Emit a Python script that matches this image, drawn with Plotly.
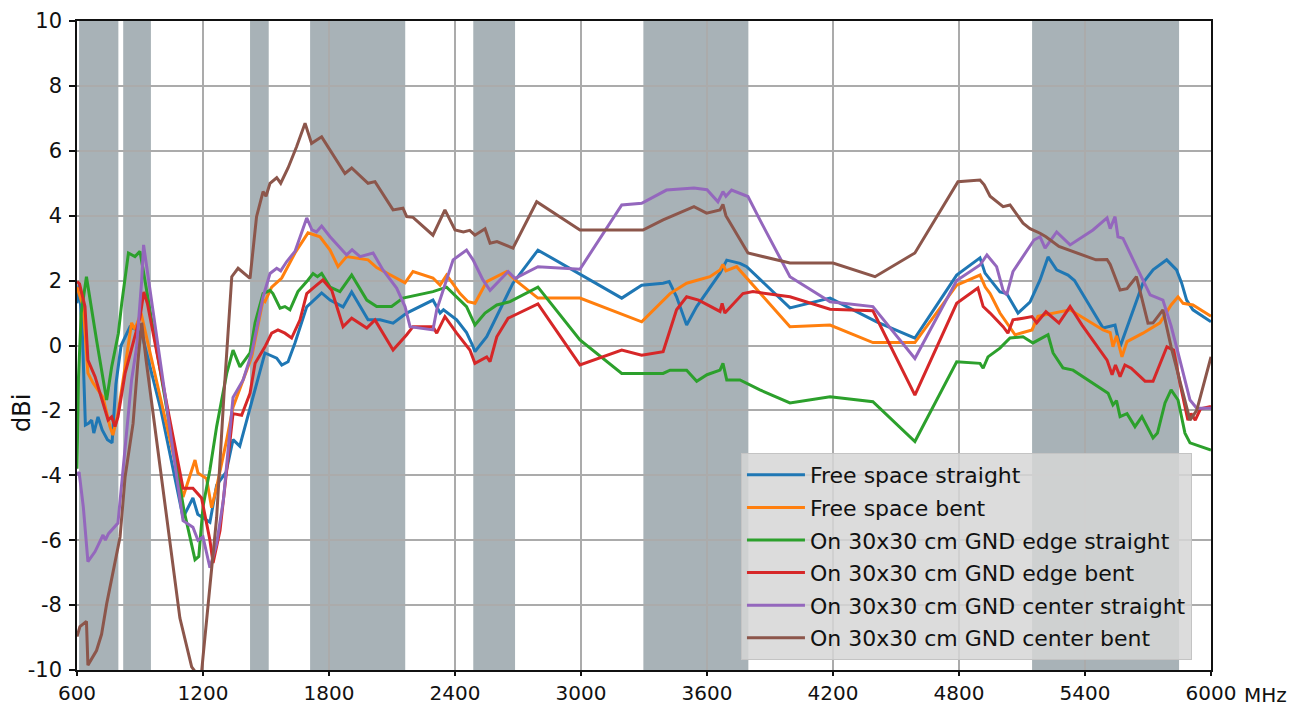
import plotly.graph_objects as go

# ---------------- data ----------------
fs_straight_x = [600, 610, 625, 640, 655, 670, 680, 700, 720, 745, 767, 785, 810, 852, 880, 910, 1000, 1105, 1152, 1175,
                 1233, 1265, 1310, 1343, 1375, 1424, 1495, 1551, 1575, 1605, 1638, 1694, 1765, 1805, 1867, 1908, 1986,
                 2043, 2105, 2170, 2295, 2329, 2345, 2408, 2455, 2486, 2495, 2551, 2599, 2676, 2795, 3194, 3289, 3391,
                 3420, 3455, 3503, 3551, 3662, 3694, 3757, 3789, 3995, 4186, 4408, 4590, 4789, 4900, 4924, 4962, 4995,
                 5027, 5081, 5138, 5186, 5224, 5265, 5319, 5350, 5486, 5543, 5567, 5676, 5724, 5789, 5836, 5860, 5884,
                 5914, 6000]
fs_straight_y = [1.3, 1.9, 0.5, -2.45, -2.4, -2.3, -2.7, -2.2, -2.6, -2.9, -3.0, -1.2, 0.0, 0.57, 0.5, 0.32, -2.0, -5.3,
                 -4.7, -5.2, -5.45, -4.3, -3.9, -2.9, -3.1, -1.95, -0.23, -0.39, -0.6, -0.5, 0.08, 1.19, 1.62, 1.4, 1.19,
                 1.65, 0.79, 0.79, 0.69, 1.0, 1.4, 1.0, 1.1, 0.79, 0.4, -0.03, -0.19, 0.27, 0.89, 1.92, 2.94, 1.46, 1.86,
                 1.92, 1.97, 1.5, 0.63, 1.2, 2.23, 2.63, 2.53, 2.43, 1.16, 1.46, 0.73, 0.23, 2.17, 2.7, 2.23, 1.9, 1.65,
                 1.6, 1.0, 1.34, 2.02, 2.73, 2.33, 2.17, 2.0, 0.54, 0.63, -0.04, 1.93, 2.33, 2.64, 2.33, 1.93, 1.4, 1.1,
                 0.73]

fs_bent_x = [600, 605, 630, 652, 676, 724, 757, 771, 795, 829, 860, 875, 905, 1105, 1162, 1176, 1217, 1241, 1265, 1313,
             1343, 1432, 1486, 1495, 1527, 1575, 1638, 1700, 1757, 1805, 1843, 1884, 1986, 2027, 2162, 2200, 2295, 2329,
             2360, 2424, 2462, 2495, 2551, 2646, 2686, 2795, 2995, 3289, 3424, 3503, 3614, 3662, 3676, 3690, 3741, 3995,
             4186, 4390, 4590, 4789, 4900, 4925, 4948, 4995, 5067, 5105, 5148, 5176, 5329, 5486, 5520, 5533, 5550, 5576,
             5600, 5676, 5757, 5810, 5843, 5867, 5914, 6000]
fs_bent_y = [1.8, 1.7, 1.2, -0.85, -1.15, -1.6, -2.5, -2.76, -2.1, -0.66, 0.7, 0.5, 1.0, -4.67, -3.53, -3.93, -4.1, -5.0,
             -4.36, -2.9, -1.9, -0.35, 1.4, 1.35, 1.8, 2.08, 2.85, 3.47, 3.35, 2.94, 2.43, 2.74, 2.64, 2.4, 1.93, 2.28,
             2.08, 1.86, 2.17, 1.6, 1.35, 1.3, 1.97, 2.28, 2.02, 1.46, 1.46, 0.73, 1.6, 1.92, 2.12, 2.33, 2.5, 2.3, 2.43,
             0.58, 0.63, 0.09, 0.09, 1.86, 2.17, 1.8, 1.6, 1.0, 0.33, 0.4, 0.48, 0.9, 1.1, 0.48, 0.4, -0.04, 0.3, -0.35,
             0.12, 0.38, 0.7, 1.25, 1.5, 1.3, 1.25, 0.9]

edge_straight_x = [600, 607, 620, 645, 693, 741, 765, 797, 813, 829, 845, 876, 900, 1110, 1162, 1180, 1200, 1233, 1265,
                   1313, 1343, 1376, 1424, 1448, 1486, 1519, 1533, 1567, 1590, 1614, 1652, 1694, 1724, 1745, 1765, 1805,
                   1852, 1908, 1980, 2027, 2098, 2152, 2295, 2360, 2408, 2455, 2495, 2543, 2599, 2662, 2795, 2995, 3194,
                   3391, 3424, 3503, 3551, 3600, 3662, 3676, 3694, 3757, 3852, 3995, 4186, 4390, 4590, 4789, 4900, 4915,
                   4938, 4995, 5043, 5105, 5152, 5224, 5248, 5295, 5343, 5510, 5533, 5550, 5567, 5600, 5638, 5671, 5724,
                   5745, 5781, 5810, 5843, 5876, 5900, 6000]
edge_straight_y = [-3.8, -1.0, 1.0, 2.12, 0.17, -1.68, -0.66, 0.38, 1.3, 2.0, 2.85, 2.74, 2.9, -5.1, -6.6, -6.5, -4.97,
                   -3.83, -2.5, -0.86, -0.14, -0.66, -0.23, 0.7, 1.6, 1.7, 1.6, 1.15, 1.2, 1.1, 1.66, 1.97, 2.22, 2.12,
                   2.22, 1.8, 1.66, 2.17, 1.4, 1.2, 1.2, 1.46, 1.66, 1.8, 1.5, 1.2, 0.63, 1.0, 1.25, 1.35, 1.8, 0.17,
                   -0.86, -0.86, -0.76, -0.76, -1.1, -0.9, -0.76, -0.55, -1.06, -1.06, -1.37, -1.77, -1.58, -1.73, -2.96,
                   -0.5, -0.55, -0.7, -0.35, -0.08, 0.23, 0.27, 0.08, 0.33, -0.23, -0.69, -0.76, -1.47, -1.83, -1.7,
                   -2.19, -2.1, -2.5, -2.19, -2.85, -2.7, -1.77, -1.37, -1.68, -2.7, -3.0, -3.22]

edge_bent_x = [600, 612, 638, 652, 686, 724, 748, 765, 781, 795, 829, 867, 900, 918, 935, 1105, 1152, 1193, 1233, 1248,
               1281, 1313, 1343, 1384, 1424, 1448, 1495, 1527, 1557, 1590, 1622, 1662, 1694, 1724, 1771, 1813, 1867,
               1908, 1980, 2019, 2105, 2170, 2200, 2295, 2313, 2352, 2408, 2471, 2495, 2551, 2567, 2599, 2653, 2795,
               2995, 3194, 3289, 3391, 3455, 3503, 3560, 3662, 3672, 3685, 3771, 3819, 3995, 4186, 4390, 4590, 4789,
               4890, 4915, 4948, 4979, 5010, 5033, 5057, 5105, 5148, 5170, 5214, 5276, 5329, 5386, 5505, 5529, 5545,
               5567, 5590, 5620, 5686, 5724, 5790, 5822, 5852, 5890, 5905, 5925, 5950, 6000]
edge_bent_y = [1.97, 1.9, 1.2, -0.45, -0.96, -1.77, -2.3, -2.2, -2.5, -2.2, -0.86, 0.07, 0.87, 1.65, 1.3, -4.4, -4.4,
               -4.7, -6.0, -6.7, -5.7, -3.83, -2.1, -2.15, -1.47, -0.55, -0.04, 0.38, 0.48, 0.38, 0.23, 0.79, 1.6, 1.77,
               2.02, 1.7, 0.58, 0.84, 0.54, 0.79, -0.14, 0.33, 0.58, 0.58, 0.38, 0.89, 0.38, -0.14, -0.55, -0.35, -0.5,
               0.27, 0.84, 1.28, -0.6, -0.14, -0.3, -0.19, 1.1, 1.5, 1.4, 1.05, 1.3, 1.0, 1.6, 1.66, 1.5, 1.12, 1.07,
               -1.53, 1.3, 1.77, 1.2, 1.0, 0.79, 0.58, 0.38, 0.79, 0.84, 0.89, 0.7, 1.04, 0.69, 1.2, 0.63, -0.45, -0.9,
               -0.6, -0.96, -0.6, -0.7, -1.1, -1.1, -0.04, -0.14, -1.16, -2.3, -2.1, -2.3, -1.95, -1.88]

center_straight_x = [600, 610, 630, 652, 686, 724, 735, 750, 795, 830, 860, 884, 908, 917, 1105, 1152, 1176, 1200, 1233,
                     1265, 1297, 1343, 1391, 1432, 1486, 1519, 1551, 1570, 1598, 1638, 1694, 1719, 1740, 1765, 1805,
                     1884, 1910, 1948, 2010, 2057, 2122, 2162, 2186, 2295, 2313, 2391, 2455, 2486, 2533, 2567, 2605,
                     2653, 2686, 2795, 2995, 3194, 3289, 3407, 3538, 3600, 3652, 3676, 3690, 3717, 3795, 3852, 3995,
                     4186, 4390, 4590, 4789, 4900, 4933, 4979, 5010, 5027, 5057, 5105, 5157, 5186, 5210, 5265, 5329,
                     5438, 5505, 5520, 5543, 5557, 5581, 5645, 5676, 5710, 5771, 5810, 5852, 5900, 5932, 6000]
center_straight_y = [-4.0, -3.9, -4.97, -6.66, -6.35, -5.84, -6.0, -5.8, -5.47, -3.0, -1.06, -0.04, 2.0, 3.1, -5.4,
                     -5.6, -6.0, -5.9, -6.85, -6.1, -4.77, -1.6, -1.06, -0.23, 1.5, 2.22, 2.38, 2.3, 2.58, 2.9, 3.93,
                     3.56, 3.5, 3.68, 3.35, 2.79, 2.95, 2.74, 2.85, 2.33, 1.77, 1.2, 0.58, 0.48, 1.1, 2.64, 2.94, 2.64,
                     2.02, 1.7, 1.97, 2.28, 2.07, 2.43, 2.35, 4.33, 4.38, 4.79, 4.85, 4.8, 4.43, 4.74, 4.6, 4.79, 4.59,
                     3.87, 2.12, 1.35, 1.2, -0.4, 2.0, 2.48, 2.79, 2.43, 1.7, 1.56, 2.28, 2.74, 3.25, 3.35, 3.0, 3.5,
                     3.1, 3.56, 3.93, 3.6, 3.97, 3.35, 3.3, 2.43, 2.02, 1.56, 1.4, 0.6, -0.45, -1.68, -1.93, -1.93]

center_bent_x = [600, 614, 645, 652, 693, 717, 741, 781, 805, 829, 867, 890, 908, 930, 1090, 1146, 1190, 1200, 1233,
                 1265, 1300, 1337, 1367, 1424, 1455, 1486, 1500, 1519, 1551, 1570, 1605, 1646, 1686, 1717, 1765, 1805,
                 1876, 1908, 1950, 1986, 2019, 2105, 2152, 2170, 2200, 2295, 2352, 2400, 2440, 2470, 2495, 2543, 2567,
                 2600, 2676, 2789, 2995, 3295, 3391, 3538, 3598, 3662, 3676, 3690, 3795, 3995, 4200, 4400, 4590, 4795,
                 4900, 4920, 4948, 5010, 5043, 5081, 5105, 5138, 5186, 5214, 5276, 5452, 5505, 5520, 5567, 5600, 5645,
                 5700, 5724, 5771, 5810, 5900, 5932, 6000]
center_bent_y = [-8.97, -8.66, -8.5, -9.85, -9.4, -8.9, -7.97, -6.7, -5.9, -4.05, -2.4, -0.5, 0.7, -0.5, -8.4, -9.9,
                 -10.3, -9.6, -7.3, -5.3, -1.5, 2.12, 2.38, 2.07, 3.97, 4.74, 4.6, 5.0, 5.17, 5.0, 5.47, 6.13, 6.85,
                 6.23, 6.43, 6.02, 5.3, 5.47, 5.2, 5.0, 5.05, 4.18, 4.23, 3.97, 3.95, 3.4, 4.18, 3.56, 3.5, 3.55, 3.4,
                 3.6, 3.15, 3.2, 3.0, 4.43, 3.56, 3.56, 3.87, 4.28, 4.08, 4.18, 4.35, 4.0, 2.85, 2.54, 2.54, 2.12, 2.85,
                 5.05, 5.1, 4.95, 4.6, 4.28, 4.33, 3.97, 3.77, 3.6, 3.46, 3.35, 3.05, 2.64, 2.65, 2.5, 1.71, 1.75, 2.12,
                 0.69, 0.7, 1.1, -0.04, -2.3, -2.0, -0.35]

band_starts = [610, 820, 1424, 1710, 2487, 3297, 5148]
band_ends = [797, 952, 1513, 2163, 2686, 3797, 5848]

series_names = ["Free space straight", "Free space bent", "On 30x30 cm GND edge straight",
                "On 30x30 cm GND edge bent", "On 30x30 cm GND center straight", "On 30x30 cm GND center bent"]
series_x = [fs_straight_x, fs_bent_x, edge_straight_x, edge_bent_x, center_straight_x, center_bent_x]
series_y = [fs_straight_y, fs_bent_y, edge_straight_y, edge_bent_y, center_straight_y, center_bent_y]

x_ticks = [600, 1200, 1800, 2400, 3000, 3600, 4200, 4800, 5400, 6000]
y_ticks = [-10, -8, -6, -4, -2, 0, 2, 4, 6, 8, 10]

# ---------------- figure ----------------
colors = ["#1f77b4", "#ff7f0e", "#2ca02c", "#d62728", "#9467bd", "#8c564b"]
FONT = "DejaVu Sans"

fig = go.Figure()
for name, xs, ys, c in zip(series_names, series_x, series_y, colors):
    fig.add_trace(go.Scatter(x=xs, y=ys, mode="lines", name=name, legendgroup=name,
                             line=dict(color=c, width=3)))

for s, e in zip(band_starts, band_ends):
    fig.add_shape(type="rect", xref="x", yref="paper", x0=s, x1=e, y0=0, y1=1,
                  fillcolor="#a8b2b7", line=dict(width=0), layer="below")

axis_common = dict(showgrid=True, gridcolor="#ababab", gridwidth=2.4, showline=True, linecolor="#111111",
                   linewidth=1.6, mirror=True, ticks="outside", tickwidth=1.5, tickcolor="#111111",
                   zeroline=False, automargin=False)

fig.update_xaxes(range=[600, 6000], tickvals=x_ticks, ticktext=[str(v) for v in x_ticks], ticklen=4,
                 tickfont=dict(family=FONT, size=20, color="#111111"), **axis_common)
fig.update_yaxes(range=[-10, 10], tickvals=y_ticks, ticktext=[str(v) for v in y_ticks], ticklabelstandoff=3,
                 ticklen=6, tickfont=dict(family=FONT, size=21, color="#111111"), **axis_common)

fig.add_annotation(text="MHz", xref="paper", yref="paper", x=1.027, y=-0.0385, xanchor="left", yanchor="middle",
                   showarrow=False, font=dict(family=FONT, size=20, color="#111111"))
fig.add_annotation(text="dBi", xref="paper", yref="paper", x=-0.0485, y=0.396, xanchor="center", yanchor="middle",
                   textangle=-90, showarrow=False, font=dict(family=FONT, size=24, color="#111111"))

fig.update_layout(
    width=1313, height=706,
    margin=dict(l=77, r=102, t=21, b=36),
    paper_bgcolor="white", plot_bgcolor="white",
    font=dict(family=FONT, color="#111111"),
    showlegend=True,
    legend=dict(x=0.5855, y=0.0154, xanchor="left", yanchor="bottom",
                bgcolor="rgba(214,214,214,0.85)", bordercolor="#c4c4c4", borderwidth=1,
                font=dict(family=FONT, size=22, color="#111111"), tracegroupgap=1,
                itemwidth=58),
)

fig.write_html("out.html", config={"displayModeBar": False},
               post_script="document.body.style.margin='0';document.body.style.overflow='hidden';")
